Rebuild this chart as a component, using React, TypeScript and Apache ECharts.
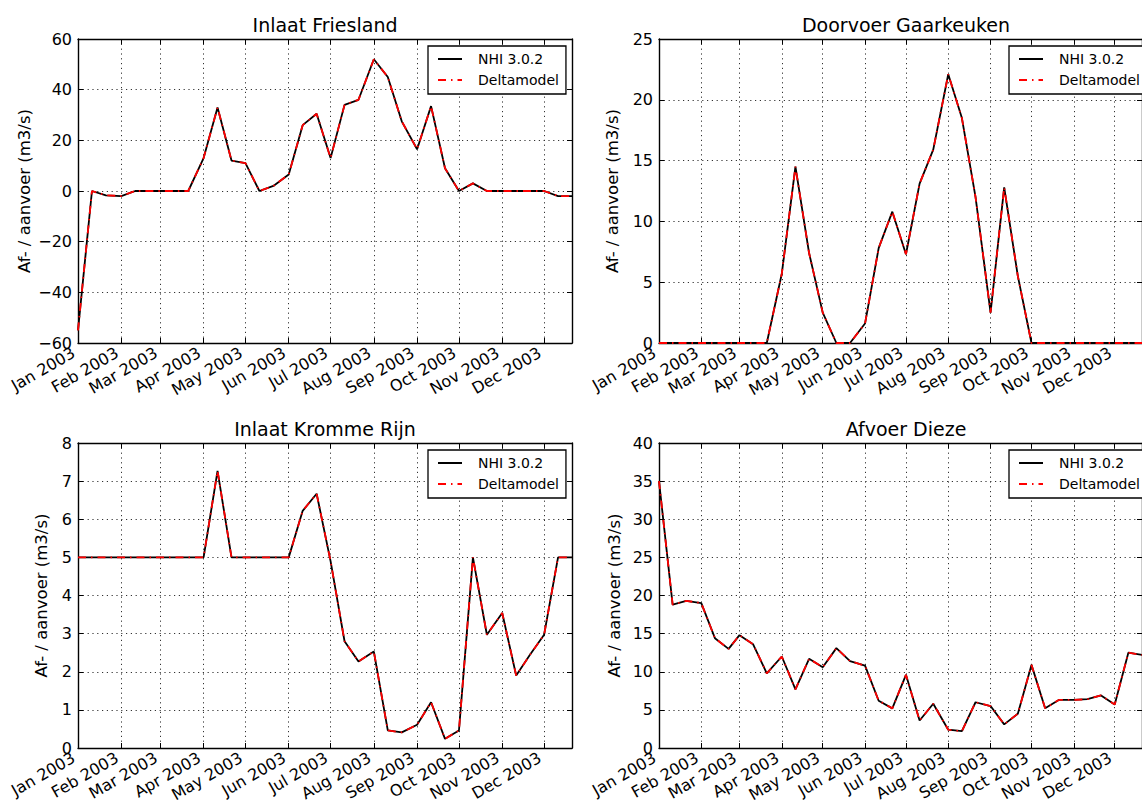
import React, { useEffect, useRef } from "react";
import * as echarts from "echarts";

// 10-day (decade) time steps: 1st, 11th, 21st of each month of 2003
const MONTHS = [0, 1, 2, 3, 4, 5, 6, 7, 8, 9, 10, 11];
const DECADE_DAYS = [1, 11, 21];
const dates = MONTHS.flatMap((m) => DECADE_DAYS.map((d) => new Date(2003, m, d).getTime()));

const seriesNames = ["NHI 3.0.2", "Deltamodel"];
const titles = ["Inlaat Friesland", "Doorvoer Gaarkeuken", "Inlaat Kromme Rijn", "Afvoer Dieze"];
const yLabel = "Af- / aanvoer (m3/s)";

const friesNHI = [-55, 0, -1.7, -2, 0, 0, 0, 0, 0, 13, 33, 12, 11, 0, 2, 6.5, 26, 30.5, 13, 34, 36, 52, 45, 27.5, 16.5, 33.5, 9, 0, 3, 0, 0, 0, 0, 0, -2, -2];
const friesDelta = [-55, 0, -1.7, -2, 0, 0, 0, 0, 0, 13, 33, 12, 11, 0, 2, 6.5, 26, 30.5, 13, 34, 36, 52, 45, 27.5, 16.5, 33.5, 9, 0, 3, 0, 0, 0, 0, 0, -2, -2];

const gaarNHI = [0, 0, 0, 0, 0, 0, 0, 0, 0, 5.7, 14.5, 7.4, 2.5, 0, 0, 1.6, 7.8, 10.8, 7.3, 13.1, 15.9, 22.1, 18.5, 12, 2.5, 12.8, 5.5, 0, 0, 0, 0, 0, 0, 0, 0, 0];
const gaarDelta = [0, 0, 0, 0, 0, 0, 0, 0, 0, 5.7, 14.5, 7.4, 2.5, 0, 0, 1.6, 7.8, 10.8, 7.3, 13.1, 15.9, 22.1, 18.5, 12, 2.5, 12.8, 5.5, 0, 0, 0, 0, 0, 0, 0, 0, 0];

const krommeNHI = [5, 5, 5, 5, 5, 5, 5, 5, 5, 5, 7.27, 5, 5, 5, 5, 5, 6.22, 6.67, 4.9, 2.8, 2.27, 2.53, 0.46, 0.41, 0.61, 1.2, 0.24, 0.46, 5.0, 2.97, 3.54, 1.9, 2.45, 2.97, 5.0, 5.0];
const krommeDelta = [5, 5, 5, 5, 5, 5, 5, 5, 5, 5, 7.27, 5, 5, 5, 5, 5, 6.22, 6.67, 4.9, 2.8, 2.27, 2.53, 0.46, 0.41, 0.61, 1.2, 0.24, 0.46, 5.0, 2.97, 3.54, 1.9, 2.45, 2.97, 5.0, 5.0];

const diezeNHI = [35, 18.8, 19.3, 19.0, 14.4, 13.0, 14.8, 13.6, 9.8, 12.0, 7.7, 11.7, 10.6, 13.1, 11.4, 10.8, 6.2, 5.2, 9.6, 3.6, 5.8, 2.4, 2.2, 6.0, 5.5, 3.1, 4.5, 10.9, 5.2, 6.3, 6.3, 6.4, 6.9, 5.7, 12.5, 12.2];
const diezeDelta = [35, 18.8, 19.3, 19.0, 14.4, 13.0, 14.8, 13.6, 9.8, 12.0, 7.7, 11.7, 10.6, 13.1, 11.4, 10.8, 6.2, 5.2, 9.6, 3.6, 5.8, 2.4, 2.2, 6.0, 5.5, 3.1, 4.5, 10.9, 5.2, 6.3, 6.3, 6.4, 6.9, 5.7, 12.5, 12.2];

const yMins = [-60, 0, 0, 0];
const yMaxs = [60, 25, 8, 40];
const yIntervals = [20, 5, 1, 5];

const FONT = "DejaVu Sans";

export default function App() {
  const ref = useRef<HTMLDivElement>(null);
  useEffect(() => {
    if (!ref.current) return;
    const chart = echarts.init(ref.current, null, { renderer: "svg" });

    const nhiData = [friesNHI, gaarNHI, krommeNHI, diezeNHI];
    const deltaData = [friesDelta, gaarDelta, krommeDelta, diezeDelta];
    const plotW = 494;
    const lefts = [78, 659, 78, 659];
    const tops = [39, 39, 443, 443];
    const heights = [304, 304, 305, 305];
    const nameGaps = [45, 38, 28, 36];
    const xMin = dates[0];
    const xMax = dates[dates.length - 1];
    const month = 24 * 3600 * 1000 * 30;

    const grid: any[] = [];
    const xAxis: any[] = [];
    const yAxis: any[] = [];
    const series: any[] = [];
    const legend: any[] = [];
    const graphic: any[] = [];

    const frameLine = { show: true, onZero: false, lineStyle: { color: "#000", width: 1.4 } };
    const tick = { show: true, inside: true, length: 5, lineStyle: { color: "#000", width: 1 } };
    const split = { show: true, lineStyle: { color: "#333", width: 1, type: [1.2, 3.6] } };

    for (let i = 0; i < 4; i++) {
      grid.push({ left: lefts[i], top: tops[i], width: plotW, height: heights[i], containLabel: false });
      const baseX = {
        type: "time",
        gridIndex: i,
        min: xMin,
        max: xMax,
        minInterval: month,
        maxInterval: month,
        splitNumber: 12,
        axisLine: frameLine,
        axisTick: tick,
      };
      xAxis.push({
        ...baseX,
        position: "bottom",
        splitLine: split,
        axisLabel: {
          show: true,
          formatter: "{MMM} {yyyy}",
          rotate: 30,
          margin: 6,
          padding: [0, 5, 0, 0],
          fontFamily: FONT,
          fontSize: 16,
          color: "#000",
          showMaxLabel: false,
          showMinLabel: true,
          hideOverlap: false,
        },
      });
      xAxis.push({ ...baseX, position: "top", splitLine: { show: false }, axisLabel: { show: false } });
      const baseY = {
        type: "value",
        gridIndex: i,
        min: yMins[i],
        max: yMaxs[i],
        interval: yIntervals[i],
        axisLine: frameLine,
        axisTick: tick,
      };
      yAxis.push({
        ...baseY,
        position: "left",
        splitLine: split,
        name: yLabel,
        nameLocation: "middle",
        nameGap: nameGaps[i],
        nameTextStyle: { fontFamily: FONT, fontSize: 16.5, color: "#000" },
        axisLabel: {
          margin: 6,
          fontFamily: FONT,
          fontSize: 16,
          color: "#000",
          formatter: (v: number) => String(v).replace("-", "\u2212"),
        },
      });
      yAxis.push({ ...baseY, position: "right", splitLine: { show: false }, axisLabel: { show: false } });

      series.push({
        name: seriesNames[0],
        type: "line",
        xAxisIndex: 2 * i,
        yAxisIndex: 2 * i,
        symbol: "none",
        data: dates.map((d, j) => [d, nhiData[i][j]]),
        lineStyle: { color: "#000", width: 1.8 },
        itemStyle: { color: "#000" },
        z: 2,
      });
      series.push({
        name: seriesNames[1],
        type: "line",
        xAxisIndex: 2 * i,
        yAxisIndex: 2 * i,
        symbol: "none",
        data: dates.map((d, j) => [d, deltaData[i][j]]),
        lineStyle: { color: "#ff0000", width: 1.8, type: [8, 5, 1.5, 5] },
        itemStyle: { color: "#ff0000" },
        z: 3,
      });

      legend.push({
        data: seriesNames,
        orient: "vertical",
        left: lefts[i] + plotW - 7 - 137,
        top: tops[i] + 7,
        backgroundColor: "#fff",
        borderColor: "#000",
        borderWidth: 1.3,
        borderRadius: 0,
        padding: [6, 7, 7, 9],
        itemWidth: 24,
        itemHeight: 14,
        itemGap: 7,
        selectedMode: false,
        itemStyle: { opacity: 0, color: "rgba(0,0,0,0)", borderWidth: 0 },
        textStyle: { fontFamily: FONT, fontSize: 14, color: "#000", padding: [0, 0, 0, 11] },
        z: 10,
      });

      graphic.push({
        type: "text",
        x: lefts[i] + plotW / 2,
        y: tops[i] - 14,
        style: {
          text: titles[i],
          fontFamily: FONT,
          fontSize: 19,
          fill: "#000",
          textAlign: "center",
          textVerticalAlign: "middle",
        },
      });
    }

    chart.setOption({
      animation: false,
      backgroundColor: "#fff",
      grid,
      xAxis,
      yAxis,
      series,
      legend,
      graphic,
    });
    return () => chart.dispose();
  }, []);

  return (
    <div
      style={{
        position: "fixed",
        left: 0,
        top: 0,
        width: 1142,
        height: 806,
        overflow: "hidden",
        background: "#fff",
      }}
    >
      <div ref={ref} style={{ width: 1142, height: 806 }} />
    </div>
  );
}
